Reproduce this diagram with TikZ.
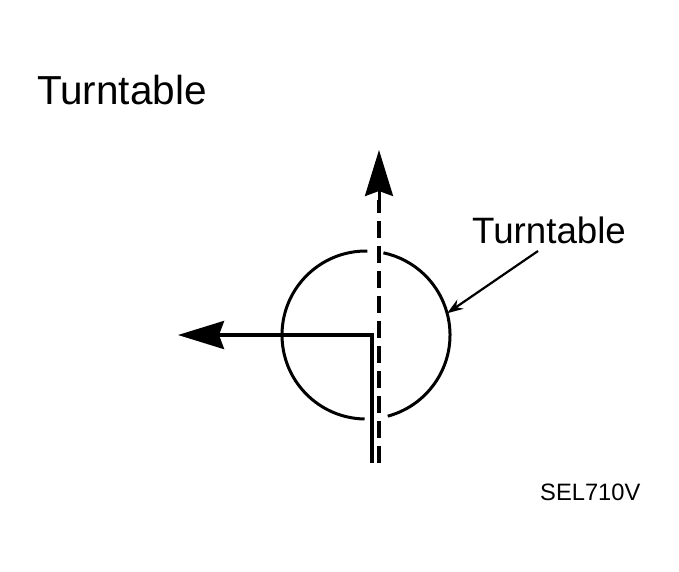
\documentclass[tikz,border=0pt]{standalone}
\usepackage{fontspec}
\setmainfont{Liberation Sans}
\usetikzlibrary{arrows.meta}
\begin{document}
\begin{tikzpicture}[x=1pt,y=-1pt,
  bigarrow/.style={-{Stealth[length=46pt,width=28pt,inset=5pt]}},
  thickline/.style={line width=3.6pt},
  txt/.style={inner sep=0pt,anchor=base west}]
\useasboundingbox (0,0) rectangle (679,571);
\node[txt,font=\fontsize{40.5}{44}\selectfont] (title) at (37,104) {Turntable};
\node[txt,font=\fontsize{36.7}{40}\selectfont] (label) at (472,243) {Turntable};
\node[txt,font=\fontsize{23.7}{26}\selectfont] (code) at (540,500) {SEL710V};
\node[circle,minimum size=168pt,inner sep=0pt,outer sep=0pt] (turn) at (366,335) {};
\draw[line width=3pt] (turn.89) arc[start angle=89,end angle=269,radius=84pt];
\draw[line width=3pt] (turn.-75) arc[start angle=-75,end angle=78,radius=84pt];
\coordinate (dbot) at (379,463);
\coordinate (dtop) at (379,150);
\coordinate (sbot) at (372,463);
\coordinate (stip) at (178,335);
\draw[line width=4pt,dash pattern=on 17pt off 8pt,line cap=butt] (dbot) -- (379,200);
\draw[bigarrow,line width=3pt] (379,205) -- (dtop);
\draw[thickline,bigarrow] (sbot) |- (stip);
\coordinate (lstart) at (538,251);
\draw[line width=2.2pt,-{Stealth[length=16pt,width=11pt]}] (lstart) -- (turn.15);
\end{tikzpicture}
\end{document}
